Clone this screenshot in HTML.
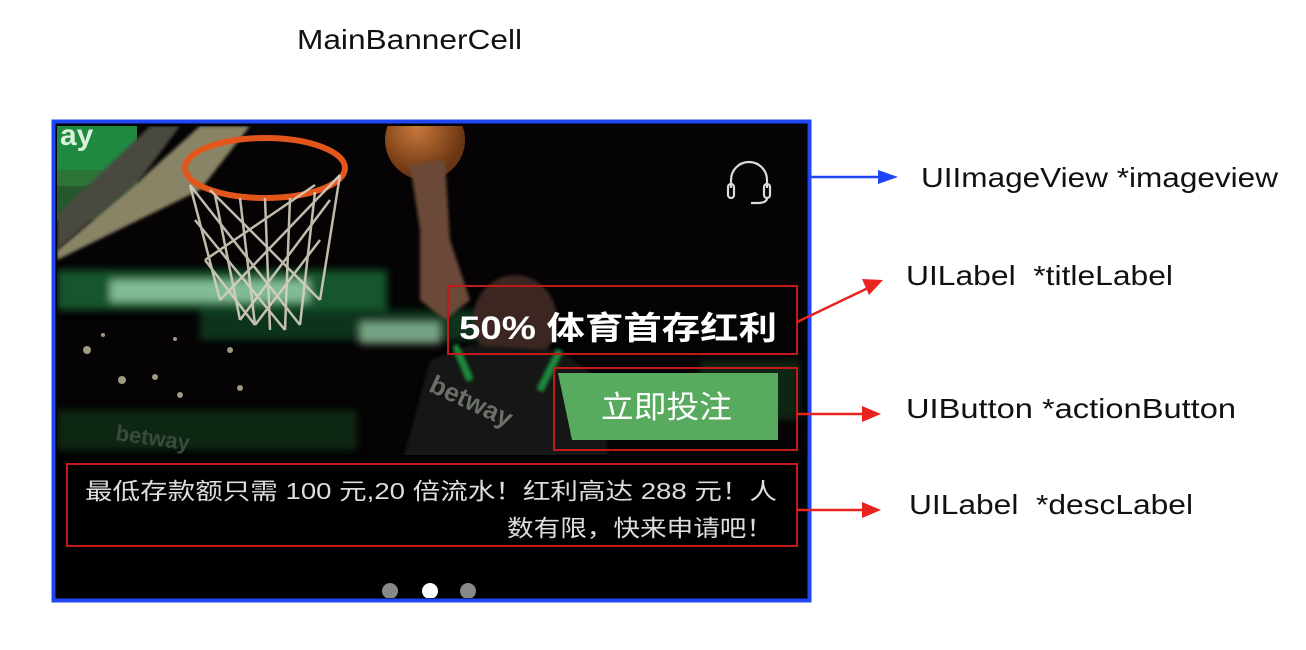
<!DOCTYPE html>
<html><head><meta charset="utf-8"><style>
html,body{margin:0;padding:0;background:#fff;width:1306px;height:650px;overflow:hidden}
svg{display:block}
.lbl{font-family:"Liberation Sans",sans-serif;font-size:28px;fill:#111}
.cn{font-family:"Liberation Sans","Noto Sans CJK SC",sans-serif}
</style></head><body>
<svg width="1306" height="650" viewBox="0 0 1306 650" xmlns="http://www.w3.org/2000/svg">
<defs>
<filter id="bl" x="-20%" y="-20%" width="140%" height="140%"><feGaussianBlur stdDeviation="4"/></filter>
<filter id="bl2"><feGaussianBlur stdDeviation="1.5"/></filter>
<radialGradient id="ball" cx="40%" cy="35%" r="60%"><stop offset="0" stop-color="#c8783a"/><stop offset="1" stop-color="#6a3512"/></radialGradient>
<clipPath id="cp"><rect x="57" y="126" width="749" height="472"/></clipPath>
</defs>
<text x="297" y="49" class="lbl" textLength="225" lengthAdjust="spacingAndGlyphs">MainBannerCell</text>
<rect x="53.5" y="121.5" width="756" height="479" fill="#000" stroke="#1f46f5" stroke-width="4"/>
<g clip-path="url(#cp)">
<rect x="57" y="126" width="749" height="472" fill="#050303"/>
<rect x="57" y="126" width="80" height="60" fill="#1f8a3f"/>
<text x="60" y="145" font-family="Liberation Sans" font-weight="bold" font-size="30" fill="#d8f0dc">ay</text>
<rect x="57" y="170" width="80" height="50" fill="#2f6e36" opacity="0.8"/>
<polygon points="57,250 57,260 200,190 250,126 200,126 140,180" fill="#8a8466" filter="url(#bl2)"/>
<polygon points="57,215 57,250 140,180 180,126 150,126" fill="#4a4a40" filter="url(#bl2)"/>
<g filter="url(#bl)">
<rect x="57" y="270" width="330" height="40" fill="#1a6a3a" opacity="0.8"/>
<rect x="110" y="280" width="200" height="22" fill="#aee8c0" opacity="0.7"/>
<rect x="200" y="310" width="330" height="30" fill="#0f4a2a" opacity="0.7"/>
<rect x="360" y="322" width="80" height="22" fill="#bdeec8" opacity="0.6"/>
<rect x="57" y="410" width="300" height="40" fill="#143620" opacity="0.7"/>
<rect x="700" y="360" width="100" height="60" fill="#163a22" opacity="0.6"/>
</g>
<g fill="#c8c0a0" opacity="0.8">
<circle cx="87" cy="350" r="4"/><circle cx="122" cy="380" r="4"/><circle cx="155" cy="377" r="3"/><circle cx="180" cy="395" r="3"/><circle cx="230" cy="350" r="3"/><circle cx="240" cy="388" r="3"/><circle cx="103" cy="335" r="2"/><circle cx="175" cy="339" r="2"/>
</g>
<ellipse cx="265" cy="168" rx="80" ry="30" fill="none" stroke="#e2561c" stroke-width="6"/>
<g stroke="#d8d0c0" stroke-width="2.5" fill="none" opacity="0.9">
<path d="M190,185 L220,300 M215,195 L240,320 M240,198 L255,325 M265,198 L270,330 M290,198 L285,330 M315,192 L300,325 M340,175 L320,300"/>
<path d="M190,185 L300,325 M210,190 L320,300 M195,220 L285,330 M205,260 L255,325 M340,175 L220,300 M330,200 L240,320 M320,240 L255,325 M315,185 L205,260"/>
</g>
<circle cx="425" cy="140" r="40" fill="url(#ball)"/>
<g filter="url(#bl2)">
<path d="M410,165 L445,160 L450,240 L470,300 L445,320 L420,300 L420,230 Z" fill="#6a4a38"/>
<ellipse cx="515" cy="320" rx="42" ry="45" fill="#3a2820"/>
<path d="M430,360 L470,345 L560,350 L600,380 L610,470 L580,598 L410,598 L400,470 Z" fill="#121612"/>
<path d="M455,345 L470,380 M560,350 L540,390" stroke="#1f8a3f" stroke-width="6" fill="none"/>
</g>
<text x="430" y="400" font-family="Liberation Sans" font-weight="bold" font-size="26" fill="#6a7068" transform="rotate(25 450 390)">betway</text>
<text x="115" y="440" font-family="Liberation Sans" font-weight="bold" font-size="22" fill="#3a4a3e" transform="rotate(8 115 440)">betway</text>
<g fill="none" stroke="#ddd" stroke-width="2.2">
<path d="M731,188 v-8 a18,18 0 0 1 36,0 v8"/>
<rect x="728" y="184" width="6" height="14" rx="3"/>
<rect x="764" y="184" width="6" height="14" rx="3"/>
<path d="M767,198 q0,5 -10,5 h-6"/>
</g>
<text x="459" y="339" class="cn" font-size="32" font-weight="bold" fill="#fff" textLength="318" lengthAdjust="spacingAndGlyphs">50% 体育首存红利</text>
<polygon points="558,373 778,373 778,440 572,440" fill="#58aa5e"/>
<text x="601" y="418" class="cn" font-size="31" fill="#fff" textLength="131" lengthAdjust="spacingAndGlyphs">立即投注</text>
<rect x="57" y="455" width="749" height="143" fill="#000"/>
<text x="85" y="499" class="cn" font-size="23" fill="#ddd" textLength="692" lengthAdjust="spacingAndGlyphs">最低存款额只需 100 元,20 倍流水！红利高达 288 元！人</text>
<text x="507" y="536" class="cn" font-size="23" fill="#ddd" textLength="266" lengthAdjust="spacingAndGlyphs">数有限，快来申请吧！</text>
<circle cx="390" cy="591" r="8" fill="#888"/>
<circle cx="430" cy="591" r="8" fill="#fff"/>
<circle cx="468" cy="591" r="8" fill="#888"/>
</g>
<g fill="none" stroke="#c01a1a" stroke-width="2">
<rect x="448" y="286" width="349" height="68"/>
<rect x="554" y="368" width="243" height="82"/>
<rect x="67" y="464" width="730" height="82"/>
</g>
<line x1="811" y1="177" x2="880" y2="177" stroke="#1f46f5" stroke-width="2.5"/>
<polygon points="878,170 898,177 878,184" fill="#1f46f5"/>
<line x1="797" y1="322" x2="868" y2="288" stroke="#e8241f" stroke-width="2.5"/>
<polygon points="862,279 883,280 869,295" fill="#e8241f"/>
<line x1="797" y1="414" x2="866" y2="414" stroke="#e8241f" stroke-width="2.5"/>
<polygon points="862,406 881,414 862,422" fill="#e8241f"/>
<line x1="797" y1="510" x2="866" y2="510" stroke="#e8241f" stroke-width="2.5"/>
<polygon points="862,502 881,510 862,518" fill="#e8241f"/>
<text x="921" y="187" class="lbl" textLength="357" lengthAdjust="spacingAndGlyphs">UIImageView *imageview</text>
<text x="906" y="285" class="lbl" xml:space="preserve" textLength="267" lengthAdjust="spacingAndGlyphs">UILabel  *titleLabel</text>
<text x="906" y="418" class="lbl" textLength="330" lengthAdjust="spacingAndGlyphs">UIButton *actionButton</text>
<text x="909" y="514" class="lbl" xml:space="preserve" textLength="284" lengthAdjust="spacingAndGlyphs">UILabel  *descLabel</text>
</svg>
</body></html>
